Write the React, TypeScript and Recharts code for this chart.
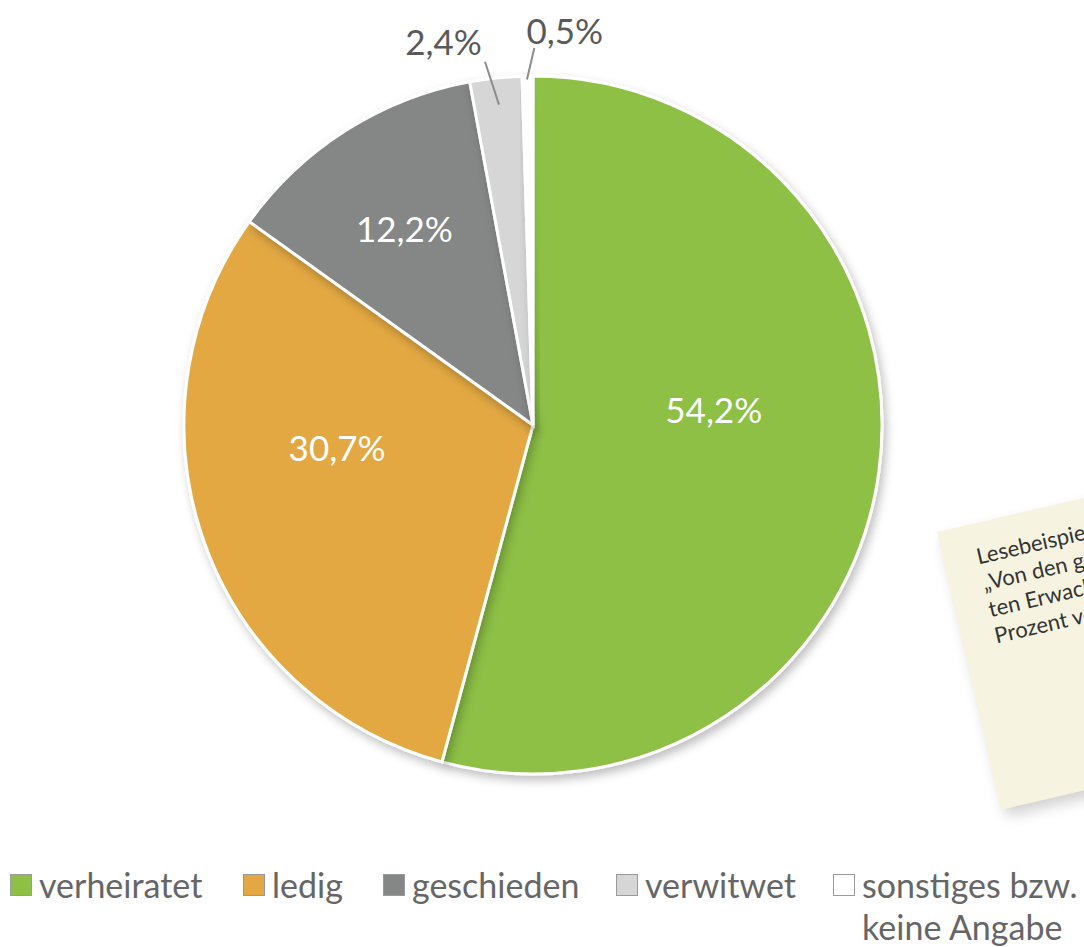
import React from 'react';
import { PieChart, Pie, Cell, Legend } from 'recharts';

const categories = ['verheiratet', 'ledig', 'geschieden', 'verwitwet', 'sonstiges bzw. keine Angabe'];
const shares = [54.2, 30.7, 12.2, 2.4, 0.5];
const colors = ['#8dc044', '#e3a843', '#858686', '#d6d6d6', '#ffffff'];
const noteLines = ['Lesebeispiel:', '„Von den gesamten befrag-', 'ten Erwachsenen sind 54,2', 'Prozent verheiratet.“'];

const data = categories.map((name, i) => ({ name, value: shares[i] }));

// label placement, relative to each slice's mid angle (r as fraction of radius)
const labelTweaks = [
  { r: 0.52, da: 12.6, inside: true },
  { r: 0.565, da: -13.2, inside: true },
  { r: 0.673, da: 0.8, inside: true },
  { r: 1.13, da: 7, inside: false, l1: [0.923, -0.06], l2: [1.05, 1.4] },
  { r: 1.135, da: -5.5, inside: false, l1: [0.99, 0.1], l2: [1.08, -1.1] },
];
const legendX = [10, 243, 383, 616, 833];

const RAD = Math.PI / 180;
const FONT = "Lato, 'Open Sans', sans-serif";
const fmt = (v: number) => v.toFixed(1).replace('.', ',') + '%';

const renderLabel = (props: any) => {
  const { cx, cy, midAngle, outerRadius, index, value } = props;
  const t = labelTweaks[index];
  const pt = (r: number, a: number) => ({
    x: cx + r * outerRadius * Math.cos(a * RAD),
    y: cy - r * outerRadius * Math.sin(a * RAD),
  });
  const p = pt(t.r, midAngle + t.da);
  return (
    <g key={`lbl-${index}`}>
      {!t.inside && t.l1 && t.l2 && (
        <line
          x1={pt(t.l1[0], midAngle + t.l1[1]).x}
          y1={pt(t.l1[0], midAngle + t.l1[1]).y}
          x2={pt(t.l2[0], midAngle + t.l2[1]).x}
          y2={pt(t.l2[0], midAngle + t.l2[1]).y}
          stroke="#8c8c8c"
          strokeWidth={2}
        />
      )}
      <text
        x={p.x}
        y={p.y}
        textAnchor="middle"
        dominantBaseline="central"
        fill={t.inside ? '#ffffff' : '#595959'}
        fontSize={35}
        fontFamily={FONT}
      >
        {fmt(value)}
      </text>
    </g>
  );
};

const renderLegend = () => (
  <div style={{ position: 'relative', height: 80, fontFamily: FONT, fontSize: 34, color: '#666666' }}>
    {categories.map((c, i) => (
      <div key={c} style={{ position: 'absolute', left: legendX[i], top: 0, display: 'flex', alignItems: 'flex-start' }}>
        <span
          style={{
            width: 20,
            height: 20,
            marginTop: 10,
            marginRight: 7,
            background: colors[i],
            border: '1.5px solid #9a9a9a',
            flexShrink: 0,
          }}
        />
        <span style={{ lineHeight: '42px', whiteSpace: 'pre' }}>
          {i === 4 ? 'sonstiges bzw.\nkeine Angabe' : c}
        </span>
      </div>
    ))}
  </div>
);

export default function App() {
  return (
    <div style={{ position: 'absolute', left: 0, top: 0, width: 1084, height: 947, background: '#fff', overflow: 'hidden' }}>
      <div
        style={{
          position: 'absolute',
          left: 937,
          top: 532,
          width: 290,
          height: 285,
          background: '#f7f3e1',
          transform: 'rotate(-13deg)',
          transformOrigin: '0 0',
          boxShadow: '4px 8px 14px rgba(0,0,0,0.18)',
          fontFamily: FONT,
          fontSize: 22,
          color: '#333',
          padding: '19px 0 0 33px',
          boxSizing: 'border-box',
          lineHeight: '27px',
        }}
      >
        {noteLines.map((l) => (
          <div key={l} style={{ whiteSpace: 'nowrap' }}>{l}</div>
        ))}
      </div>
      <div style={{ position: 'absolute', left: 0, top: 0 }}>
        <PieChart width={1084} height={947} margin={{ top: 0, right: 0, bottom: 0, left: 0 }}>
          <defs>
            <filter id="sh" x="-10%" y="-10%" width="120%" height="120%">
              <feDropShadow dx="3" dy="5" stdDeviation="5" floodColor="#000" floodOpacity="0.25" />
            </filter>
          </defs>
          <Pie
            data={data}
            dataKey="value"
            nameKey="name"
            cx={533}
            cy={425}
            outerRadius={349}
            startAngle={90}
            endAngle={-270}
            stroke="#ffffff"
            strokeWidth={3}
            label={renderLabel}
            labelLine={false}
            isAnimationActive={false}
            style={{ filter: 'url(#sh)' }}
          >
            {data.map((d, i) => (
              <Cell key={d.name} fill={colors[i]} />
            ))}
          </Pie>
          <Legend
            content={renderLegend}
            wrapperStyle={{ position: 'absolute', left: 0, top: 864, width: 1084 }}
          />
        </PieChart>
      </div>
    </div>
  );
}
